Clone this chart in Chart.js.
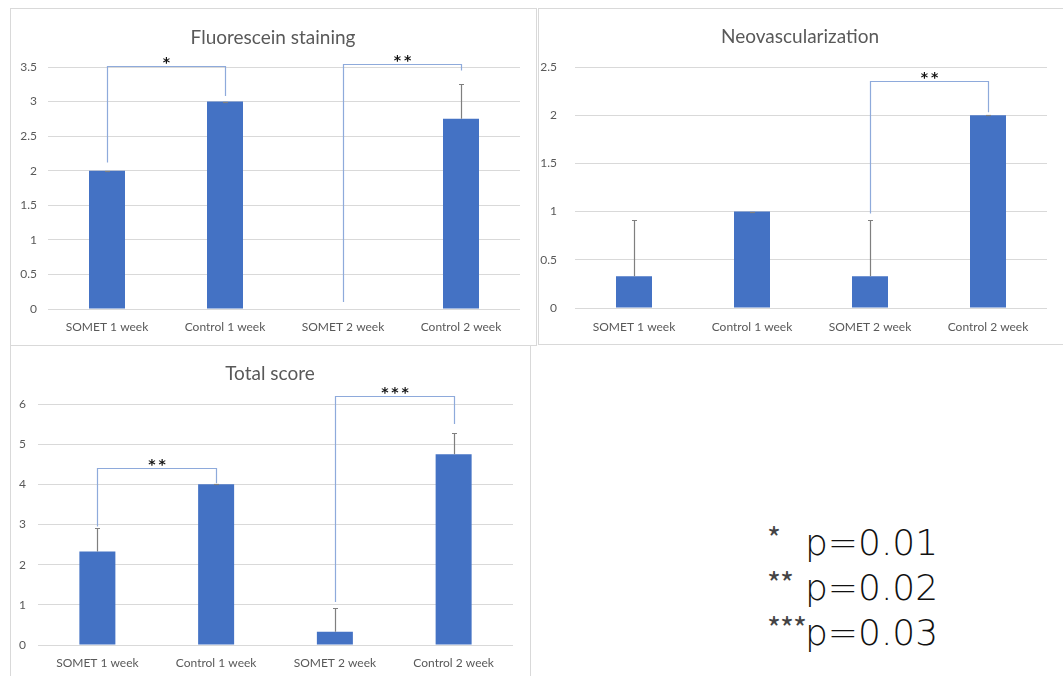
<!DOCTYPE html>
<html>
<head>
<meta charset="utf-8">
<script src="https://cdn.jsdelivr.net/npm/chart.js@4.4.1/dist/chart.umd.min.js"></script>
<style>
  html, body { margin: 0; padding: 0; background: #ffffff; }
  body { width: 1063px; height: 676px; position: relative; overflow: hidden; }
  .panel { position: absolute; box-sizing: border-box; border: 1px solid #d9d9d9; pointer-events: none; }
  canvas { position: absolute; }
  .title { position: absolute; font-family: Lato, "Open Sans", sans-serif; font-size: 19px; color: #595959; white-space: nowrap; transform: translate(-50%, -50%); }
  .pv { position: absolute; font-family: "DejaVu Sans", sans-serif; font-weight: 200; font-size: 36px; line-height: 36px; color: #111; white-space: nowrap; }
  .ast { position: absolute; font-family: "Noto Sans CJK JP", "Noto Sans", sans-serif; font-weight: 400; font-size: 30px; line-height: 30px; color: #444; white-space: nowrap; letter-spacing: -1px; }
</style>
</head>
<body>
<div class="panel" style="left:10px;top:8px;width:527px;height:338px;"></div>
<div class="panel" style="left:538px;top:8px;width:526px;height:337px;"></div>
<div class="panel" style="left:10px;top:345px;width:521px;height:340px;"></div>

<canvas id="c1" width="526" height="337" style="left:10px;top:8px;"></canvas>
<canvas id="c2" width="524" height="336" style="left:538px;top:8px;"></canvas>
<canvas id="c3" width="520" height="331" style="left:10px;top:345px;"></canvas>

<div class="title" style="left:273px;top:36px;">Fluorescein staining</div>
<div class="title" style="left:800px;top:35px;">Neovascularization</div>
<div class="title" style="left:270px;top:372px;">Total score</div>

<div id="legend"></div>

<script>
// ---------- data ----------
const categories = ['SOMET 1 week', 'Control 1 week', 'SOMET 2 week', 'Control 2 week'];

const fluoTitle = 'Fluorescein staining';
const fluoMean = [2, 3, 0, 2.75];
const fluoErr  = [0, 0, 0, 0.5];
const fluoTicks = { max: 3.5, step: 0.5 };
const fluoBrackets = [
  { from: 0, to: 1, top: 3.52, leftEnd: 2.12, rightEnd: 3.08, label: '*' },
  { from: 2, to: 3, top: 3.55, leftEnd: 0.1, rightEnd: 3.45, label: '**' }
];

const neoTitle = 'Neovascularization';
const neoMean = [0.33, 1, 0.33, 2];
const neoErr  = [0.58, 0, 0.58, 0];
const neoTicks = { max: 2.5, step: 0.5 };
const neoBrackets = [
  { from: 2, to: 3, top: 2.35, leftEnd: 0.98, rightEnd: 2.03, label: '**' }
];

const totalTitle = 'Total score';
const totalMean = [2.33, 4, 0.33, 4.75];
const totalErr  = [0.58, 0, 0.58, 0.52];
const totalTicks = { max: 6, step: 1 };
const totalBrackets = [
  { from: 0, to: 1, top: 4.41, leftEnd: 2.95, rightEnd: 4.03, label: '**' },
  { from: 2, to: 3, top: 6.2, leftEnd: 1.07, rightEnd: 5.5, label: '***' }
];

const pLegend = [
  { stars: '*',   text: 'p=0.01' },
  { stars: '**',  text: 'p=0.02' },
  { stars: '***', text: 'p=0.03' }
];

// ---------- plugin: error bars and significance brackets ----------
const annotPlugin = {
  id: 'annot',
  afterDatasetsDraw(chart) {
    const ctx = chart.ctx;
    const xs = chart.scales.x, ys = chart.scales.y;
    const cfg = chart.options.plugins.annot;
    const means = chart.data.datasets[0].data;
    ctx.save();
    // error bars
    ctx.strokeStyle = '#7f7f7f';
    ctx.lineWidth = 1.2;
    cfg.errors.forEach((e, i) => {
      if (means[i] <= 0 && e <= 0) return;
      const x = Math.round(xs.getPixelForValue(i)) + 0.5;
      const yb = ys.getPixelForValue(means[i]);
      const yt = ys.getPixelForValue(means[i] + e);
      ctx.beginPath();
      ctx.moveTo(x, yb);
      ctx.lineTo(x, yt);
      ctx.moveTo(x - 2.5, Math.round(yt) + 0.5);
      ctx.lineTo(x + 2.5, Math.round(yt) + 0.5);
      ctx.stroke();
    });
    // brackets
    cfg.brackets.forEach(b => {
      const x1 = Math.round(xs.getPixelForValue(b.from)) + 0.5;
      const x2 = Math.round(xs.getPixelForValue(b.to)) + 0.5;
      const yt = Math.round(ys.getPixelForValue(b.top)) + 0.5;
      ctx.strokeStyle = '#8eaadb';
      ctx.lineWidth = 1.2;
      ctx.beginPath();
      ctx.moveTo(x1, ys.getPixelForValue(b.leftEnd));
      ctx.lineTo(x1, yt);
      ctx.lineTo(x2, yt);
      ctx.lineTo(x2, ys.getPixelForValue(b.rightEnd));
      ctx.stroke();
      ctx.fillStyle = '#111';
      ctx.font = 'bold 14px "DejaVu Sans", sans-serif';
      ctx.textAlign = 'center';
      ctx.textBaseline = 'alphabetic';
      ctx.fillText(b.label.split('').join('\u2009'), (x1 + x2) / 2, yt);
    });
    ctx.restore();
  }
};

function makeChart(id, mean, err, ticks, brackets, geo) {
  return new Chart(document.getElementById(id), {
    type: 'bar',
    data: {
      labels: categories,
      datasets: [{
        data: mean,
        backgroundColor: '#4472c4',
        borderWidth: 0,
        inflateAmount: 0,
        barThickness: 36
      }]
    },
    options: {
      responsive: false,
      animation: false,
      devicePixelRatio: 1,
      layout: { padding: { left: geo.pl, right: geo.pr, top: geo.pt, bottom: geo.pb } },
      plugins: {
        legend: { display: false },
        title: { display: false },
        tooltip: { enabled: false },
        annot: { errors: err, brackets: brackets }
      },
      scales: {
        x: {
          grid: { display: false, drawTicks: false },
          border: { display: false },
          ticks: { color: '#595959', font: { family: 'Lato, "Open Sans", sans-serif', size: 12 }, padding: geo.xpad, maxRotation: 0 },
          afterFit(s) { s.height = geo.xh; }
        },
        y: {
          min: 0, max: ticks.max,
          grid: { color: '#d9d9d9', lineWidth: 1, drawTicks: false },
          border: { display: false },
          ticks: { stepSize: ticks.step, color: '#595959', font: { family: 'Lato, "Open Sans", sans-serif', size: 12 }, padding: geo.ypad,
                   callback: v => String(v) },
          afterFit(s) { s.width = geo.yw; }
        }
      }
    },
    plugins: [annotPlugin]
  });
}

makeChart('c1', fluoMean, fluoErr, fluoTicks, fluoBrackets,
  { pl: 2, pr: 16, pt: 59, pb: 6, yw: 36, xh: 30, xpad: 11, ypad: 11 });
makeChart('c2', neoMean, neoErr, neoTicks, neoBrackets,
  { pl: 0, pr: 15, pt: 59, pb: 6, yw: 37, xh: 30, xpad: 12, ypad: 18 });
makeChart('c3', totalMean, totalErr, totalTicks, totalBrackets,
  { pl: 2, pr: 17, pt: 59, pb: 3, yw: 26, xh: 28, xpad: 11, ypad: 12 });

// ---------- p-value legend ----------
const legend = document.getElementById('legend');
pLegend.forEach((row, i) => {
  const top = 525 + i * 45;
  const a = document.createElement('div');
  a.className = 'ast';
  a.style.left = '767px';
  a.style.top = (top - 3) + 'px';
  a.textContent = row.stars;
  legend.appendChild(a);
  const p = document.createElement('div');
  p.className = 'pv';
  p.style.left = '805px';
  p.style.top = top + 'px';
  p.textContent = row.text;
  legend.appendChild(p);
});
</script>
</body>
</html>
